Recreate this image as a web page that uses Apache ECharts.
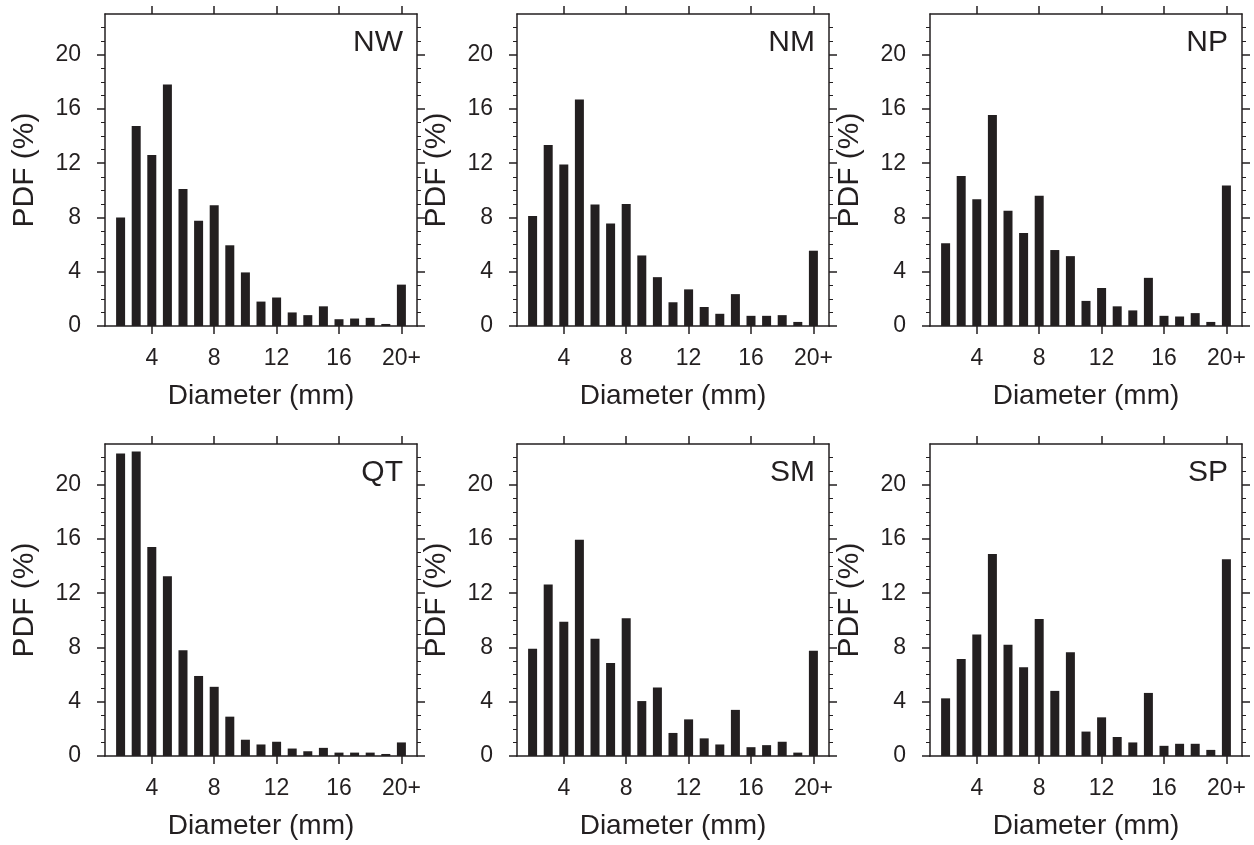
<!DOCTYPE html>
<html>
<head>
<meta charset="utf-8">
<script src="https://cdn.jsdelivr.net/npm/echarts@6/dist/echarts.min.js"></script>
<style>
html,body{margin:0;padding:0;background:#fff;}
#chart{width:1254px;height:845px;}
</style>
</head>
<body>
<div id="chart"></div>
<script>
// Diameter bins (mm); the last bin is "20+"
const bins = [2,3,4,5,6,7,8,9,10,11,12,13,14,15,16,17,18,19,20];
const xTickValues = [4, 8, 12, 16, 20];
const yTickValues = [0, 4, 8, 12, 16, 20];
const yMinorValues = [1,2,3,5,6,7,9,10,11,13,14,15,17,18,19,21,22];
const panelNames = ["NW", "NM", "NP", "QT", "SM", "SP"];

const pdfNW = [8.0,14.75,12.6,17.8,10.1,7.75,8.9,5.95,3.95,1.8,2.1,1.0,0.8,1.45,0.5,0.55,0.6,0.15,3.05];
const pdfNM = [8.1,13.35,11.9,16.7,8.95,7.55,9.0,5.2,3.6,1.75,2.7,1.4,0.9,2.35,0.75,0.75,0.8,0.3,5.55];
const pdfNP = [6.1,11.05,9.35,15.55,8.5,6.85,9.6,5.6,5.15,1.85,2.8,1.45,1.15,3.55,0.75,0.7,0.95,0.3,10.35];
const pdfQT = [22.3,22.45,15.4,13.25,7.8,5.9,5.1,2.9,1.2,0.85,1.05,0.55,0.35,0.6,0.25,0.25,0.25,0.15,1.0];
const pdfSM = [7.9,12.65,9.9,15.95,8.65,6.85,10.15,4.05,5.05,1.7,2.7,1.3,0.85,3.4,0.65,0.8,1.05,0.25,7.75];
const pdfSP = [4.25,7.15,8.95,14.9,8.2,6.55,10.1,4.8,7.65,1.8,2.85,1.4,1.0,4.65,0.75,0.9,0.9,0.45,14.5];
const panelValues = [pdfNW, pdfNM, pdfNP, pdfQT, pdfSM, pdfSP];

const INK = '#231f20';
const FONT = '"Liberation Sans", Arial, Helvetica, sans-serif';
const colLeft = [105, 517, 930];
const rowTop = [14, 444];
const W = 312, H = 312;

const grids = [], xAxes = [], yAxes = [], series = [], titles = [];
panelNames.forEach((name, i) => {
  const r = Math.floor(i / 3), c = i % 3;
  const left = colLeft[c], top = rowTop[r];
  grids.push({left: left, top: top, width: W, height: H, show: false});
  const lineStyle = {color: INK, width: 1.5};
  // bottom x axis
  xAxes.push({
    type: 'value', gridIndex: i, position: 'bottom', min: 1, max: 21,
    axisLine: {show: true, onZero: false, lineStyle: lineStyle},
    axisTick: {show: true, inside: false, length: 8, lineStyle: lineStyle, customValues: xTickValues},
    axisLabel: {show: true, customValues: xTickValues, margin: 21, color: INK, fontSize: 23, fontFamily: FONT,
      formatter: v => (v === 20 ? '20+' : String(v))},
    splitLine: {show: false},
    name: 'Diameter (mm)', nameLocation: 'middle', nameGap: 56,
    nameTextStyle: {color: INK, fontSize: 28, fontFamily: FONT}
  });
  // top x axis
  xAxes.push({
    type: 'value', gridIndex: i, position: 'top', min: 1, max: 21,
    axisLine: {show: true, onZero: false, lineStyle: lineStyle},
    axisTick: {show: true, inside: false, length: 8, lineStyle: lineStyle, customValues: xTickValues},
    axisLabel: {show: false}, splitLine: {show: false}
  });
  // left major
  yAxes.push({
    type: 'value', gridIndex: i, position: 'left', min: 0, max: 23,
    axisLine: {show: true, onZero: false, lineStyle: lineStyle},
    axisTick: {show: true, inside: false, length: 8, lineStyle: lineStyle, customValues: yTickValues},
    axisLabel: {show: true, customValues: yTickValues, margin: 24, color: INK, fontSize: 23, fontFamily: FONT},
    splitLine: {show: false},
    name: 'PDF (%)', nameLocation: 'middle', nameGap: 65,
    nameTextStyle: {color: INK, fontSize: 30, fontFamily: FONT}
  });
  // left minor
  yAxes.push({
    type: 'value', gridIndex: i, position: 'left', min: 0, max: 23,
    axisLine: {show: false},
    axisTick: {show: true, inside: false, length: 4, lineStyle: {color: INK, width: 1}, customValues: yMinorValues},
    axisLabel: {show: false}, splitLine: {show: false}
  });
  // right major
  yAxes.push({
    type: 'value', gridIndex: i, position: 'right', min: 0, max: 23,
    axisLine: {show: true, onZero: false, lineStyle: lineStyle},
    axisTick: {show: true, inside: false, length: 8, lineStyle: lineStyle, customValues: yTickValues},
    axisLabel: {show: false}, splitLine: {show: false}
  });
  // right minor
  yAxes.push({
    type: 'value', gridIndex: i, position: 'right', min: 0, max: 23,
    axisLine: {show: false},
    axisTick: {show: true, inside: false, length: 4, lineStyle: {color: INK, width: 1}, customValues: yMinorValues},
    axisLabel: {show: false}, splitLine: {show: false}
  });
  series.push({
    type: 'bar', name: name, xAxisIndex: 2 * i, yAxisIndex: 4 * i,
    barWidth: 9, itemStyle: {color: INK},
    data: bins.map((b, j) => [b, panelValues[i][j]]),
    animation: false
  });
  titles.push({
    text: name, right: 1254 - (left + W - 14), top: top + 14, padding: 0,
    textStyle: {color: INK, fontSize: 30, fontWeight: 'normal', fontFamily: FONT}
  });
});

const chart = echarts.init(document.getElementById('chart'), null, {renderer: 'canvas'});
chart.setOption({
  backgroundColor: '#fff',
  animation: false,
  title: titles,
  grid: grids,
  xAxis: xAxes,
  yAxis: yAxes,
  series: series
});
</script>
</body>
</html>
